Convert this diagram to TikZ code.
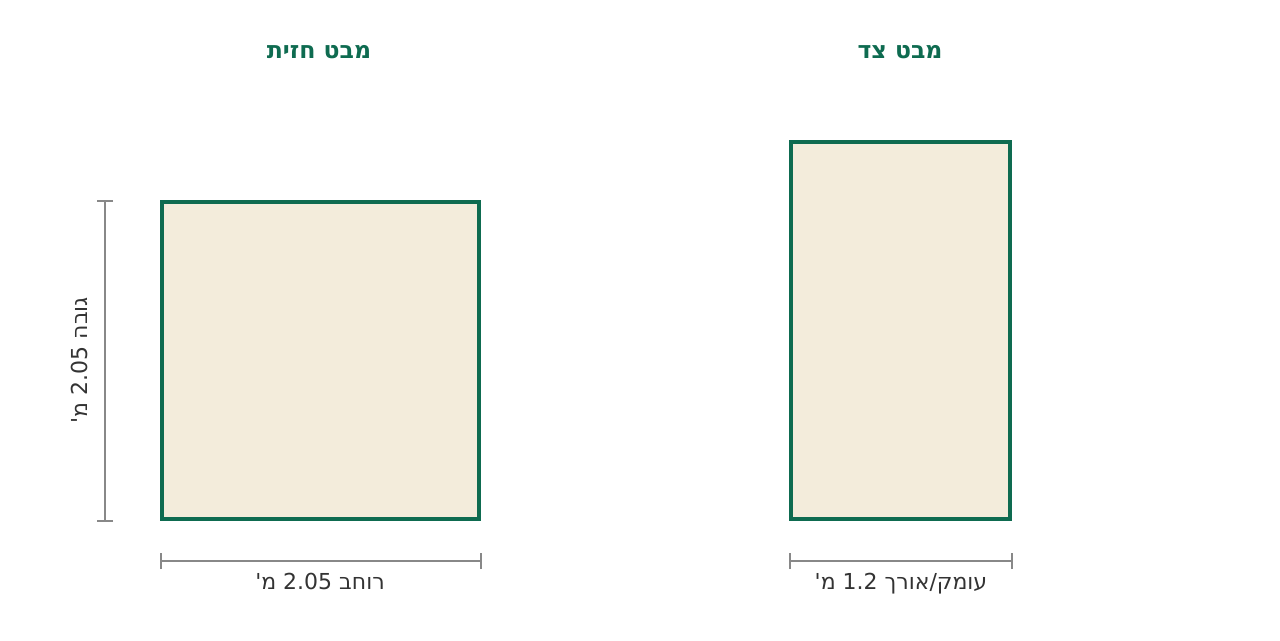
\documentclass[tikz,border=0pt]{standalone}
\usepackage{fontspec}
\setmainfont{DejaVu Sans}
\newfontfamily\hebfont[Script=Hebrew]{DejaVu Sans}
\TeXXeTstate=1
\usetikzlibrary{calc}
\newcommand{\pxsize}{0.75pt}
\definecolor{viewgreen}{HTML}{0E6B50}
\definecolor{boxfill}{HTML}{F3ECDB}
\definecolor{dimgray}{HTML}{888888}
\definecolor{labelgray}{HTML}{333333}
\newcommand{\dimline}[3]{
	\draw[dimline] (#1) -- (#2);
	\draw[dimline] ($(#1)+(#3)$) -- ($(#1)-(#3)$);
	\draw[dimline] ($(#2)+(#3)$) -- ($(#2)-(#3)$);
}

\begin{document}
\begin{tikzpicture}[x=\pxsize,y=-\pxsize,
	viewbox/.style={draw=viewgreen, fill=boxfill, line width=2.4pt},
	dimline/.style={dimgray, line width=1.1pt},
	title/.style={font=\hebfont\bfseries\fontsize{17.7}{20}\selectfont, text=viewgreen},
	dimlabel/.style={font=\hebfont\fontsize{16.5}{19}\selectfont, text=labelgray}]
	\useasboundingbox (0,0) rectangle (1280,640);

	% front view
	\coordinate (FTL) at (162,202);
	\coordinate (FBR) at (479,519);
	\draw[viewbox] (FTL) rectangle (FBR);
	\node[title] (fronttitle) at (319,52) {\beginR מבט חזית\endR};

	\coordinate (FWl) at (161,561);
	\coordinate (FWr) at (481,561);
	\dimline{FWl}{FWr}{0,8}
	\node[dimlabel, anchor=base] (frontwidth) at (320,589) {\beginR רוחב \beginL2.05\endL{} מ'\endR};

	\coordinate (FHt) at (105,201);
	\coordinate (FHb) at (105,521);
	\dimline{FHt}{FHb}{8,0}
	\node[dimlabel, rotate=90] (frontheight) at (79,360) {\beginR גובה \beginL2.05\endL{} מ'\endR};

	% side view
	\coordinate (STL) at (791,142);
	\coordinate (SBR) at (1010,519);
	\draw[viewbox] (STL) rectangle (SBR);
	\node[title] (sidetitle) at (900,52) {\beginR מבט צד\endR};

	\coordinate (SDl) at (790,561);
	\coordinate (SDr) at (1012,561);
	\dimline{SDl}{SDr}{0,8}
	\node[dimlabel, anchor=base] (sidedepth) at (901,589) {\beginR עומק/אורך \beginL1.2\endL{} מ'\endR};
\end{tikzpicture}
\end{document}
